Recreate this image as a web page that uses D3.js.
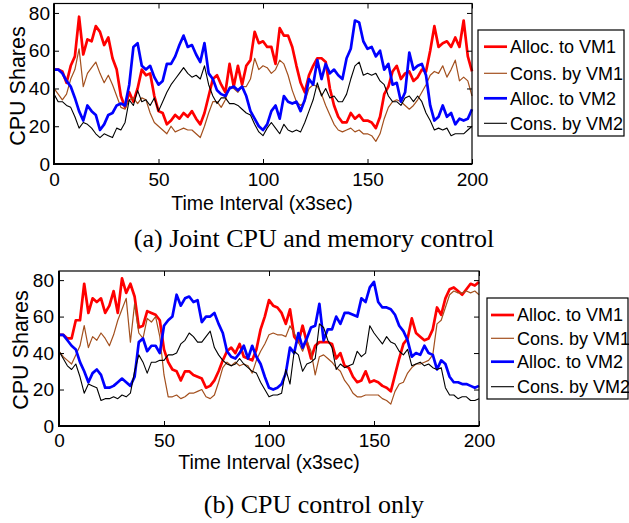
<!DOCTYPE html>
<html><head><meta charset="utf-8">
<script src="https://cdn.jsdelivr.net/npm/d3@7"></script>
<style>body{margin:0;background:#fff} svg{display:block}</style>
</head><body><svg id="c" width="629" height="523"></svg>
<script>
// ---------- data ----------
const timeSteps = [0,2,4,6,8,10,12,14,16,18,20,22,24,26,28,30,32,34,36,38,40,42,44,46,48,50,52,54,56,58,60,62,64,66,68,70,72,74,76,78,80,82,84,86,88,90,92,94,96,98,100,102,104,106,108,110,112,114,116,118,120,122,124,126,128,130,132,134,136,138,140,142,144,146,148,150,152,154,156,158,160,162,164,166,168,170,172,174,176,178,180,182,184,186,188,190,192,194,196,198,200];
const xTickValues = [0,50,100,150,200];
const yTickValues = [0,20,40,60,80];
const seriesNames = ["Alloc. to VM1","Cons. by VM1","Alloc. to VM2","Cons. by VM2"];
const xAxisTitle = "Time Interval (x3sec)";
const yAxisTitle = "CPU Shares";
const captions = ["(a) Joint CPU and memory control","(b) CPU control only"];

// (a) Joint CPU and memory control
const allocVM1_joint = [50,50,49,43,52,57,78,58,66,65,73,70,63,67,56,50,36,30,38,33,40,50,47,48,36,28,27,21,23,26,24,27,25,28,24,21,27,36,45,47,42,38,53,41,52,42,52,55,70,64,65,
  62,62,53,72,68,68,62,52,43,38,47,52,56,56,54,40,31,25,22,22,27,24,26,23,23,22,19,25,37,41,49,52,45,48,49,44,46,50,49,60,73,62,64,65,62,67,62,76,57,49];
const consVM1_joint = [40,37,34,37,45,50,61,41,48,51,54,48,43,47,42,36,30,29,34,35,32,35,34,27,22,20,18,16,20,17,18,19,18,18,16,14,20,27,33,33,30,34,41,40,38,41,41,45,56,50,52,
  51,48,50,55,53,47,39,33,31,33,40,42,41,37,31,26,21,18,17,18,19,17,18,16,16,15,12,16,24,30,33,34,33,31,29,31,34,38,42,47,49,48,52,46,50,55,44,46,44,36];
const allocVM2_joint = [50,50,48,44,41,35,28,23,31,28,26,18,21,26,27,31,32,31,42,62,64,52,50,52,46,42,44,53,53,57,63,68,62,63,58,54,64,48,45,39,37,36,40,41,39,41,36,28,24,20,18,
  21,28,31,24,36,33,32,33,28,34,45,42,55,45,53,48,50,47,45,56,61,76,75,65,61,62,57,60,50,53,42,43,33,38,59,50,52,53,47,31,23,25,31,25,27,21,24,23,24,29];
const consVM2_joint = [37,33,33,31,30,25,19,22,21,19,16,14,16,15,14,19,18,22,34,31,39,33,34,31,35,28,33,38,42,45,48,51,48,46,47,45,52,42,36,32,35,35,32,32,31,29,27,26,21,17,15,
  19,22,19,16,21,18,17,18,17,22,28,34,43,36,40,35,36,33,33,37,45,52,54,47,48,47,48,44,42,36,33,33,31,35,36,33,36,33,27,23,18,19,18,19,15,16,16,16,18,20];

// (b) CPU control only
const allocVM1_cpu = [50,50,48,48,58,58,78,62,70,68,70,62,66,74,62,81,73,78,71,54,55,63,62,61,58,42,35,31,30,25,30,30,28,27,26,21,22,25,30,36,41,43,40,45,38,37,36,42,53,60,69,
  66,65,62,56,64,49,46,55,46,37,44,46,46,46,45,37,40,33,32,27,24,25,30,24,25,24,22,21,19,28,37,45,48,59,51,49,47,48,53,65,61,70,75,76,74,72,75,78,77,79];
const consVM1_cpu = [41,38,36,34,39,44,55,43,49,47,51,48,44,50,58,64,70,46,67,51,48,59,57,60,49,28,16,16,17,15,16,18,18,19,20,16,15,17,24,32,35,33,35,33,34,33,29,36,41,45,50,
  51,50,50,49,55,51,46,41,47,41,28,38,39,37,35,32,30,25,22,18,16,16,17,17,17,17,15,14,12,19,23,24,29,32,34,34,35,36,39,56,58,65,72,74,73,73,74,73,74,72];
const allocVM2_cpu = [50,50,47,44,42,35,30,24,29,31,28,21,21,22,24,26,24,22,27,46,48,41,44,44,40,55,58,60,72,66,70,71,68,69,57,60,60,62,56,51,41,38,37,40,44,37,44,38,34,27,21,
  20,21,23,29,43,40,51,43,48,54,55,67,47,53,53,60,56,62,62,61,60,70,68,76,79,68,65,65,64,61,55,52,47,38,40,39,44,40,39,31,36,34,27,24,24,23,23,22,21,22];
const consVM2_cpu = [41,37,33,31,34,27,18,23,22,21,14,15,15,16,15,17,16,18,30,39,35,29,35,35,36,36,39,39,40,45,47,51,49,46,46,49,52,43,39,36,34,33,34,37,34,32,30,29,24,20,16,
  17,17,18,31,23,41,39,30,34,35,37,56,54,47,43,31,34,32,33,34,41,38,40,55,51,48,45,49,46,45,41,39,42,33,34,35,33,34,32,31,32,21,17,17,15,16,16,14,14,15];

// ---------- styling / layout ----------
const seriesStyles = [
  {color:"#ff0000", w:2.7},
  {color:"#a3501e", w:1.2},
  {color:"#0000ff", w:2.7},
  {color:"#000000", w:1.1}
];
const SANS = "'Liberation Sans', Arial, Helvetica, sans-serif";
const SERIF = "'Liberation Serif', 'Times New Roman', serif";

const panels = [
  {series:[allocVM1_joint,consVM1_joint,allocVM2_joint,consVM2_joint],
   x0:54, x1:472, y0:164, y1:3.5, xpad:9, ypad:4,
   xTitle:{x:262, y:210}, yTitle:{x:25, y:86},
   legend:{x:478, y:30, w:146, h:106, rows:[46.7,73.3,98.3,123.3], lx0:484, lx1:507, tx:510},
   caption:{text:captions[0], x:314, y:247}},
  {series:[allocVM1_cpu,consVM1_cpu,allocVM2_cpu,consVM2_cpu],
   x0:59, x1:479, y0:426, y1:271, xpad:8, ypad:5,
   xTitle:{x:269, y:469}, yTitle:{x:28, y:350},
   legend:{x:487, y:298, w:141, h:101, rows:[315,338.3,361.7,386.7], lx0:491, lx1:514, tx:517},
   caption:{text:captions[1], x:314, y:513}}
];

const svg = d3.select("#c");

function drawPanel(p) {
  const g = svg.append("g");
  const x = d3.scaleLinear().domain([0,200]).range([p.x0,p.x1]);
  const y = d3.scaleLinear().domain([0,85]).range([p.y0,p.y1]);

  const line = d3.line().x((d,i)=>x(timeSteps[i])).y(d=>y(d));
  p.series.forEach((s,i)=>{
    g.append("path").datum(s).attr("d",line)
      .attr("fill","none").attr("stroke",seriesStyles[i].color)
      .attr("stroke-width",seriesStyles[i].w).attr("stroke-linejoin","round");
  });

  const tickFont = sel => sel.selectAll("text").attr("font-family",SANS).attr("font-size",19).attr("fill","#000");
  const clean = sel => { sel.select(".domain").remove(); sel.selectAll(".tick line").attr("stroke","#000").attr("stroke-width",1); };

  g.append("g").attr("transform",`translate(0,${p.y0})`)
    .call(d3.axisBottom(x).tickValues(xTickValues).tickSizeInner(-5).tickSizeOuter(0).tickPadding(p.xpad))
    .call(clean).call(tickFont);
  g.append("g").attr("transform",`translate(0,${p.y1})`)
    .call(d3.axisTop(x).tickValues(xTickValues).tickSizeInner(-5).tickSizeOuter(0).tickFormat(""))
    .call(clean);
  g.append("g").attr("transform",`translate(${p.x0},0)`)
    .call(d3.axisLeft(y).tickValues(yTickValues).tickSizeInner(-5).tickSizeOuter(0).tickPadding(p.ypad))
    .call(clean).call(tickFont);
  g.append("g").attr("transform",`translate(${p.x1},0)`)
    .call(d3.axisRight(y).tickValues(yTickValues).tickSizeInner(-5).tickSizeOuter(0).tickFormat(""))
    .call(clean);

  // frame
  g.append("rect").attr("x",p.x0).attr("y",p.y1).attr("width",p.x1-p.x0).attr("height",p.y0-p.y1)
    .attr("fill","none").attr("stroke","#000").attr("stroke-width",1.2);
  g.append("path").attr("d",`M${p.x0},${p.y1}V${p.y0}H${p.x1}`)
    .attr("fill","none").attr("stroke","#000").attr("stroke-width",2);

  // titles
  g.append("text").attr("x",p.xTitle.x).attr("y",p.xTitle.y).attr("text-anchor","middle")
    .attr("font-family",SANS).attr("font-size",19.5).text(xAxisTitle);
  g.append("text").attr("transform",`translate(${p.yTitle.x},${p.yTitle.y}) rotate(-90)`)
    .attr("text-anchor","middle").attr("font-family",SANS).attr("font-size",21.5).text(yAxisTitle);

  // legend
  const L = p.legend;
  const lg = g.append("g");
  lg.append("rect").attr("x",L.x).attr("y",L.y).attr("width",L.w).attr("height",L.h)
    .attr("fill","#fff").attr("stroke","#000").attr("stroke-width",1.2);
  seriesNames.forEach((name,i)=>{
    lg.append("line").attr("x1",L.lx0).attr("x2",L.lx1).attr("y1",L.rows[i]).attr("y2",L.rows[i])
      .attr("stroke",seriesStyles[i].color).attr("stroke-width",seriesStyles[i].w);
    lg.append("text").attr("x",L.tx).attr("y",L.rows[i]+6.3)
      .attr("font-family",SANS).attr("font-size",18).text(name);
  });

  // caption
  g.append("text").attr("x",p.caption.x).attr("y",p.caption.y).attr("text-anchor","middle")
    .attr("font-family",SERIF).attr("font-size",26).text(p.caption.text);
}

panels.forEach(drawPanel);
</script>
</body></html>
